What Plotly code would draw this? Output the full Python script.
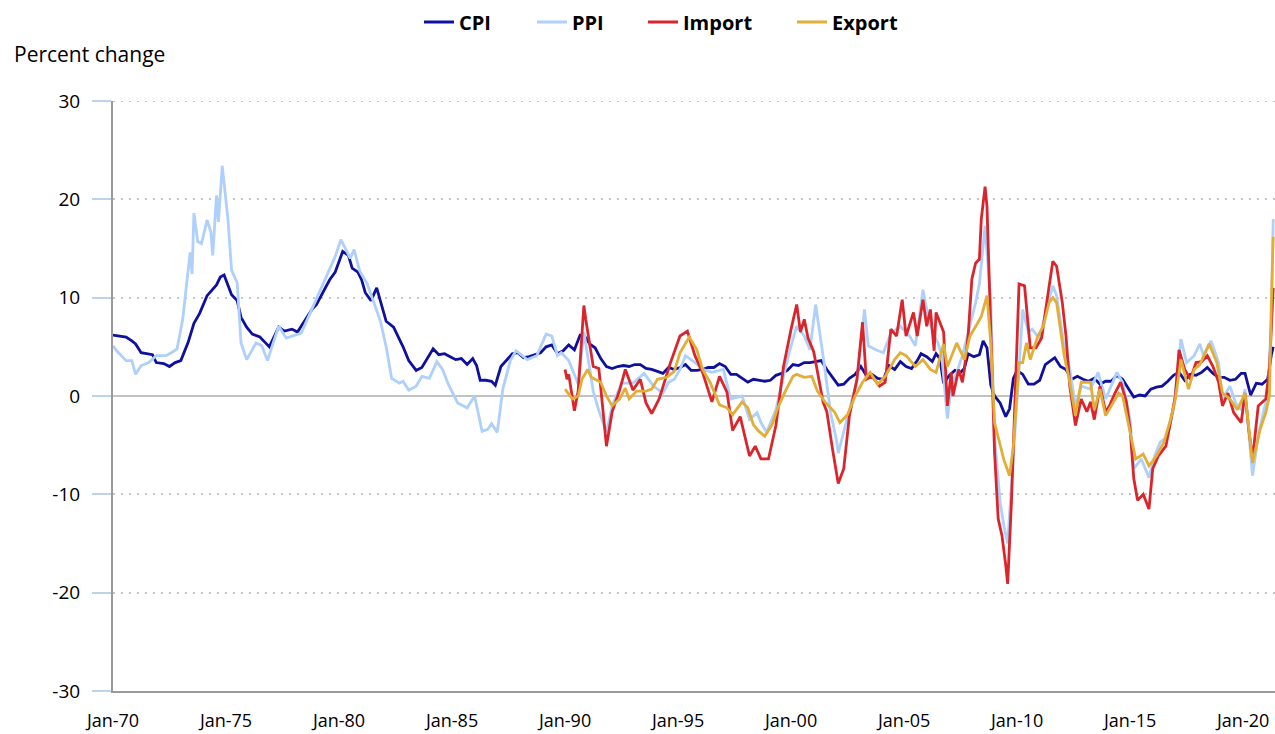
import plotly.graph_objects as go

# ---------------- data (year-over-year percent change) ----------------
cpi_dates = ["1970-01","1970-04","1970-08","1970-11","1971-01","1971-04","1971-07","1971-10","1971-12",
 "1972-04","1972-07","1972-10","1973-01","1973-05","1973-08","1973-11","1974-03","1974-06","1974-08",
 "1974-10","1974-12","1975-04","1975-07","1975-09","1975-12","1976-03","1976-07","1976-10","1976-12",
 "1977-05","1977-08","1977-12","1978-03","1978-08","1978-11","1979-01","1979-05","1979-08","1979-11",
 "1980-03","1980-06","1980-08","1980-11","1981-01","1981-03","1981-06","1981-09","1981-11","1982-02",
 "1982-06","1982-09","1982-11","1983-02","1983-06","1983-09","1983-12","1984-03","1984-06","1984-09",
 "1984-12","1985-03","1985-06","1985-09","1985-12","1986-02","1986-04","1986-07","1986-10","1986-12",
 "1987-03","1987-06","1987-09","1987-12","1988-03","1988-06","1988-09","1988-12","1989-03","1989-06",
 "1989-09","1989-12","1990-03","1990-06","1990-09","1990-11","1991-02","1991-05","1991-08","1991-11",
 "1992-02","1992-05","1992-08","1992-11","1993-02","1993-05","1993-08","1993-11","1994-02","1994-05",
 "1994-08","1994-11","1995-02","1995-05","1995-08","1995-11","1996-02","1996-05","1996-08","1996-11",
 "1997-02","1997-05","1997-08","1997-11","1998-02","1998-05","1998-08","1998-11","1999-02","1999-05",
 "1999-08","1999-11","2000-02","2000-05","2000-08","2000-11","2001-02","2001-05","2001-08","2001-11",
 "2002-02","2002-05","2002-08","2002-11","2003-02","2003-05","2003-08","2003-11","2004-02","2004-05",
 "2004-08","2004-11","2005-02","2005-05","2005-08","2005-10","2006-01","2006-04","2006-06","2006-08",
 "2006-10","2007-01","2007-04","2007-07","2007-09","2007-11","2008-02","2008-05","2008-07","2008-09",
 "2008-11","2009-01","2009-04","2009-07","2009-09","2009-11","2010-01","2010-04","2010-07","2010-10",
 "2011-01","2011-04","2011-07","2011-09","2011-12","2012-03","2012-06","2012-09","2012-12","2013-03",
 "2013-06","2013-09","2013-12","2014-03","2014-06","2014-09","2014-12","2015-03","2015-06","2015-09",
 "2015-12","2016-03","2016-06","2016-09","2016-12","2017-03","2017-06","2017-09","2017-12","2018-03",
 "2018-06","2018-09","2018-12","2019-03","2019-06","2019-09","2019-12","2020-02","2020-05","2020-08",
 "2020-11","2021-02","2021-04","2021-05"]
cpi_values = [6.2,6.1,6.0,5.6,5.3,4.4,4.3,4.2,3.4,
 3.3,3.0,3.4,3.6,5.5,7.4,8.4,10.2,10.9,11.3,
 12.1,12.3,10.3,9.7,8.0,7.0,6.3,6.0,5.4,5.0,
 7.0,6.6,6.8,6.5,8.0,8.9,9.3,10.8,11.8,12.6,
 14.7,14.3,13.0,12.6,11.8,10.5,9.7,11.0,9.6,7.6,
 7.0,5.8,5.0,3.6,2.6,2.9,3.8,4.8,4.2,4.3,
 4.0,3.7,3.8,3.2,3.8,3.1,1.6,1.6,1.5,1.1,
 3.0,3.7,4.3,4.4,3.9,4.0,4.2,4.4,5.0,5.2,
 4.3,4.6,5.2,4.7,6.2,6.2,5.3,4.9,3.8,3.0,
 2.8,3.0,3.1,3.0,3.2,3.2,2.8,2.7,2.5,2.3,
 2.9,2.7,2.9,3.2,2.6,2.6,2.7,2.9,2.9,3.3,
 3.0,2.2,2.2,1.8,1.4,1.7,1.6,1.5,1.6,2.1,
 2.3,2.6,3.2,3.1,3.4,3.4,3.5,3.6,2.7,1.9,
 1.1,1.2,1.8,2.2,3.0,2.1,2.2,1.8,1.7,3.1,
 2.7,3.5,3.0,2.8,3.6,4.3,4.0,3.5,4.3,3.8,
 1.3,2.1,2.6,2.4,2.8,4.3,4.0,4.2,5.6,4.9,
 1.1,0.0,-0.7,-2.1,-1.3,1.8,2.6,2.2,1.2,1.2,
 1.6,3.2,3.6,3.9,3.0,2.7,1.7,2.0,1.7,1.5,
 1.8,1.2,1.5,1.5,2.1,1.7,0.8,-0.1,0.1,0.0,
 0.7,0.9,1.0,1.5,2.1,2.4,1.6,2.2,2.1,2.4,
 2.9,2.3,1.9,1.9,1.6,1.7,2.3,2.3,0.1,1.3,
 1.2,1.7,4.2,5.0]

ppi_dates = ["1970-01","1970-03","1970-08","1970-11","1971-01","1971-04","1971-08","1971-12","1972-05",
 "1972-08","1972-11","1973-02","1973-04","1973-06","1973-07","1973-08","1973-10","1973-12","1974-03",
 "1974-05","1974-06","1974-08","1974-09","1974-11","1975-02","1975-04","1975-07","1975-09","1975-12",
 "1976-05","1976-08","1976-11","1977-05","1977-09","1978-05","1979-01","1979-11","1980-02","1980-07",
 "1980-09","1980-12","1981-04","1981-08","1981-11","1982-02","1982-05","1982-09","1982-11","1983-02",
 "1983-06","1983-09","1984-01","1984-05","1984-08","1984-11","1985-04","1985-09","1986-01","1986-05",
 "1986-08","1986-10","1987-01","1987-04","1987-08","1987-11","1988-05","1988-10","1989-03","1989-06",
 "1989-09","1989-11","1990-03","1990-08","1990-11","1991-04","1991-07","1991-11","1992-02","1992-07",
 "1993-01","1993-07","1993-12","1994-05","1994-08","1994-11","1995-02","1995-05","1995-10","1996-02",
 "1996-07","1997-01","1997-05","1997-11","1998-03","1998-07","1998-09","1998-12","1999-05","1999-09",
 "1999-12","2000-04","2000-08","2000-11","2001-02","2001-06","2001-10","2002-01","2002-02","2002-08",
 "2002-12","2003-04","2003-06","2003-10","2004-02","2004-06","2004-11","2005-04","2005-07","2005-11",
 "2006-02","2006-05","2006-07","2006-09","2006-12","2007-02","2007-05","2007-08","2007-12","2008-03",
 "2008-05","2008-08","2008-11","2009-01","2009-04","2009-06","2009-08","2009-11","2010-02","2010-04",
 "2010-07","2010-09","2011-01","2011-05","2011-08","2011-10","2012-02","2012-05","2012-08","2012-11",
 "2013-04","2013-08","2013-12","2014-06","2014-09","2015-01","2015-03","2015-07","2015-11","2016-02",
 "2016-05","2016-09","2016-12","2017-04","2017-07","2017-11","2018-02","2018-04","2018-08","2018-12",
 "2019-02","2019-06","2019-09","2019-12","2020-02","2020-06","2020-09","2020-12","2021-02","2021-04",
 "2021-05"]
ppi_values = [5.1,4.6,3.6,3.6,2.2,3.1,3.4,4.1,4.1,
 4.4,4.8,7.8,11.2,14.6,12.4,18.6,15.7,15.5,17.9,
 16.7,14.3,20.4,17.7,23.4,18.0,12.8,11.5,5.4,3.7,
 5.4,5.1,3.6,7.1,5.9,6.4,9.8,14.2,15.9,14.0,
 14.9,12.7,11.4,9.1,7.6,5.0,1.8,1.3,1.5,0.6,
 1.0,2.0,1.8,3.5,2.7,1.2,-0.7,-1.2,0.0,-3.6,
 -3.4,-2.8,-3.7,0.7,3.6,4.6,3.7,4.1,6.3,6.1,
 4.1,4.4,3.6,1.2,6.5,0.5,-1.5,-3.7,-1.0,1.3,
 1.3,2.3,1.0,0.3,1.4,1.7,2.7,4.1,3.4,2.7,
 2.4,2.7,-0.3,0.0,-2.4,-1.7,-2.7,-3.7,-1.4,2.0,
 4.4,7.1,6.1,4.7,9.3,4.1,-1.7,-4.4,-5.8,-1.4,
 1.6,8.8,5.1,4.7,4.4,6.4,7.1,6.1,5.1,10.8,
 7.8,6.1,5.4,4.1,-2.3,1.0,2.4,4.1,7.1,9.5,
 11.4,17.3,9.5,-4.1,-10.8,-13.2,-15.0,-6.5,2.7,8.8,
 6.5,6.8,5.8,9.2,11.2,10.2,5.0,2.7,-1.0,1.0,
 0.7,2.4,-0.3,2.4,1.4,-2.4,-7.4,-6.4,-8.3,-6.1,
 -4.7,-4.1,-1.4,5.8,3.4,4.1,5.3,4.1,5.6,3.4,
 -0.3,1.0,-0.7,-1.4,0.7,-8.1,-4.1,-1.4,0.0,7.8,
 18.0]

import_dates = ["1990-01","1990-02","1990-03","1990-06","1990-08","1990-11","1990-12","1991-04","1991-07",
 "1991-11","1992-02","1992-06","1992-09","1993-01","1993-05","1993-08","1993-11","1994-03","1994-09",
 "1995-02","1995-06","1995-10","1996-02","1996-07","1996-11","1997-03","1997-06","1997-10","1998-03",
 "1998-06","1998-09","1999-01","1999-05","1999-09","2000-01","2000-04","2000-06","2000-08","2000-10",
 "2001-01","2001-06","2001-08","2001-11","2002-02","2002-05","2002-08","2002-12","2003-03","2003-05",
 "2003-08","2003-12","2004-03","2004-06","2004-09","2004-12","2005-02","2005-06","2005-08","2005-11",
 "2006-01","2006-03","2006-05","2006-06","2006-10","2006-12","2007-02","2007-03","2007-06","2007-08",
 "2007-09","2007-11","2008-01","2008-03","2008-05","2008-06","2008-08","2008-09","2008-11","2009-01",
 "2009-03","2009-05","2009-07","2009-08","2009-10","2009-12","2010-02","2010-05","2010-07","2010-08",
 "2010-11","2011-02","2011-05","2011-08","2011-10","2012-01","2012-03","2012-05","2012-08","2012-11",
 "2013-02","2013-04","2013-06","2013-09","2013-12","2014-02","2014-05","2014-08","2014-11","2015-01",
 "2015-03","2015-05","2015-08","2015-11","2016-01","2016-04","2016-08","2016-11","2017-01","2017-03",
 "2017-06","2017-09","2017-12","2018-03","2018-06","2018-09","2018-12","2019-02","2019-05","2019-08",
 "2019-12","2020-02","2020-04","2020-06","2020-09","2021-01","2021-03","2021-05"]
import_values = [2.7,1.7,2.2,-1.5,0.5,9.2,7.8,3.0,2.8,
 -5.1,-1.6,0.6,2.7,0.6,1.7,-0.7,-1.8,-0.3,3.4,
 6.1,6.6,4.1,2.4,-0.6,2.0,0.4,-3.5,-2.1,-6.1,
 -5.1,-6.4,-6.4,-3.0,3.0,6.8,9.3,6.5,7.8,5.9,
 4.5,-0.6,-1.6,-5.4,-8.9,-7.4,-2.0,1.7,7.5,1.7,
 2.0,1.0,1.4,6.8,6.1,9.8,6.1,8.5,6.1,9.8,
 7.1,8.8,4.6,8.5,6.5,-1.0,2.4,0.0,2.7,1.4,
 2.7,6.1,11.9,13.5,13.9,18.0,21.3,19.3,6.1,-5.7,
 -12.5,-14.2,-17.2,-19.1,-10.8,-0.6,11.4,11.2,6.5,4.9,
 4.9,5.9,9.8,13.7,13.2,9.5,6.1,1.0,-3.0,-0.3,
 -1.6,-0.6,-2.4,1.0,-1.6,-1.0,0.3,1.4,-0.6,-3.4,
 -8.4,-10.6,-10.0,-11.5,-7.4,-6.1,-5.1,-2.0,0.0,4.7,
 2.7,1.7,3.4,3.5,4.1,3.0,1.4,-1.0,0.3,-1.7,
 -2.7,0.3,-3.4,-6.4,-1.0,-0.3,2.7,11.0]

export_dates = ["1990-01","1990-05","1990-08","1990-10","1991-01","1991-03","1991-08","1991-11","1992-02",
 "1992-06","1992-09","1992-11","1993-03","1993-08","1993-11","1994-02","1994-07","1994-11","1995-02",
 "1995-07","1995-11","1996-02","1996-06","1996-11","1997-03","1997-06","1997-11","1998-02","1998-05",
 "1998-08","1998-11","1999-03","1999-06","1999-10","2000-02","2000-04","2000-08","2000-12","2001-03",
 "2001-07","2001-12","2002-03","2002-07","2002-11","2003-03","2003-07","2003-11","2004-03","2004-08",
 "2004-11","2005-02","2005-07","2005-11","2006-03","2006-06","2006-10","2006-12","2007-03","2007-05",
 "2007-09","2007-12","2008-04","2008-06","2008-09","2008-11","2009-01","2009-04","2009-06","2009-09",
 "2009-11","2010-02","2010-04","2010-06","2010-08","2010-12","2011-03","2011-06","2011-08","2011-10",
 "2012-02","2012-05","2012-08","2012-11","2013-04","2013-06","2013-09","2013-12","2014-03","2014-07",
 "2014-09","2014-12","2015-04","2015-08","2015-11","2016-03","2016-07","2016-11","2017-01","2017-04",
 "2017-08","2017-11","2018-02","2018-07","2018-11","2019-02","2019-06","2019-10","2020-02","2020-06",
 "2020-10","2021-01","2021-03","2021-04","2021-05"]
export_values = [0.7,-0.3,0.0,1.7,2.7,1.9,1.4,0.0,-1.0,
 -0.3,0.8,-0.3,0.5,0.5,0.7,1.7,1.9,2.5,4.4,
 6.0,4.7,2.7,1.4,-0.9,-1.2,-1.9,-0.6,-1.2,-2.9,
 -3.6,-4.1,-2.9,-1.2,0.5,2.0,2.2,1.9,2.0,0.5,
 -0.6,-1.6,-2.7,-1.9,0.0,1.4,2.4,1.2,2.0,3.7,
 4.4,4.1,3.0,3.7,2.7,2.4,5.3,3.0,4.4,5.4,
 3.7,6.1,7.4,8.1,10.2,5.4,-2.7,-4.8,-6.5,-8.1,
 -5.1,3.4,3.4,5.4,3.7,6.1,7.1,9.5,10.0,9.5,
 4.1,1.4,-2.0,1.4,1.4,-1.4,0.7,-2.0,-1.0,0.3,
 0.0,-2.7,-6.4,-5.9,-7.1,-6.1,-4.7,-2.0,-0.3,3.7,
 0.7,2.7,3.2,5.3,3.4,0.3,-0.3,-1.4,0.3,-6.8,
 -3.4,-1.7,0.0,9.5,16.2]

series_names = ["CPI", "PPI", "Import", "Export"]
series_colors = ["#10109e", "#aed0fb", "#d9262c", "#e2ae38"]

tick_dates = ["1970-01-01","1975-01-01","1980-01-01","1985-01-01","1990-01-01","1995-01-01",
              "2000-01-01","2005-01-01","2010-01-01","2015-01-01","2020-01-01"]
tick_labels = ["Jan-70","Jan-75","Jan-80","Jan-85","Jan-90","Jan-95",
               "Jan-00","Jan-05","Jan-10","Jan-15","Jan-20"]
y_ticks = [-30, -20, -10, 0, 10, 20, 30]
y_tick_labels = ["-30", "-20", "-10", "0", "10", "20", "30"]

# ---------------- figure ----------------
FONT = "Open Sans"
GRID_COLOR = "#c4c4c4"
GRID_DASH = "2px,6px"
all_series = [(cpi_dates, cpi_values), (ppi_dates, ppi_values),
              (import_dates, import_values), (export_dates, export_values)]
legend_ids = ["legend", "legend2", "legend3", "legend4"]
legend_x_px = [419, 532, 643, 792]

fig = go.Figure()
for (d, v), name, color, lid in zip(all_series, series_names, series_colors, legend_ids):
    fig.add_trace(go.Scatter(x=d, y=v, mode="lines", name=name,
                             line=dict(color=color, width=2.8), legend=lid))

W, H = 1275, 734
legend_common = dict(orientation="h", xref="container", yref="container",
                     xanchor="left", yanchor="middle", y=1 - 22 / H,
                     font=dict(family=FONT, size=20, color="#000000", weight="bold"),
                     bgcolor="rgba(0,0,0,0)", borderwidth=0, itemwidth=30)
legend_layout = {}
for lid, px in zip(legend_ids, legend_x_px):
    legend_layout[lid] = dict(legend_common, x=px / W)

fig.update_layout(
    width=W, height=H,
    margin=dict(l=113, r=0, t=101, b=43),
    paper_bgcolor="white", plot_bgcolor="white",
    font=dict(family=FONT, size=19, color="#000000"),
    title=dict(text="Percent change", x=14 / W, xref="container", xanchor="left",
               y=1 - 55 / H, yref="container", yanchor="middle",
               font=dict(family=FONT, size=21, color="#000000")),
    showlegend=True,
    **legend_layout,
)

# dotted gridline along the top edge of the plot (at the 30 tick)
fig.add_shape(type="line", xref="paper", x0=0, x1=1, yref="y", y0=max(y_ticks), y1=max(y_ticks),
              line=dict(color=GRID_COLOR, width=2, dash=GRID_DASH), layer="below")

fig.update_xaxes(
    type="date", range=["1970-01-01", "2021-05-30"],
    tickvals=tick_dates, ticktext=tick_labels,
    showgrid=False, zeroline=False,
    showline=True, linecolor="#9a9a9a", linewidth=2,
    ticks="outside", ticklen=12, tickcolor="rgba(0,0,0,0)",
    tickfont=dict(family=FONT, size=18, color="#000000"),
)
fig.update_yaxes(
    range=[-30, 30], tickvals=y_ticks, ticktext=y_tick_labels,
    showgrid=True, gridcolor=GRID_COLOR, gridwidth=2, griddash=GRID_DASH,
    zeroline=True, zerolinecolor="#c2c2c2", zerolinewidth=2,
    showline=True, linecolor="#9a9a9a", linewidth=2,
    ticks="outside", ticklen=19, tickwidth=2, tickcolor="#bcd3ea",
    ticklabelstandoff=8,
    tickfont=dict(family=FONT, size=19, color="#000000"),
)

fig.write_html("out.html", config={"displayModeBar": False},
               post_script="document.body.style.margin='0';")
